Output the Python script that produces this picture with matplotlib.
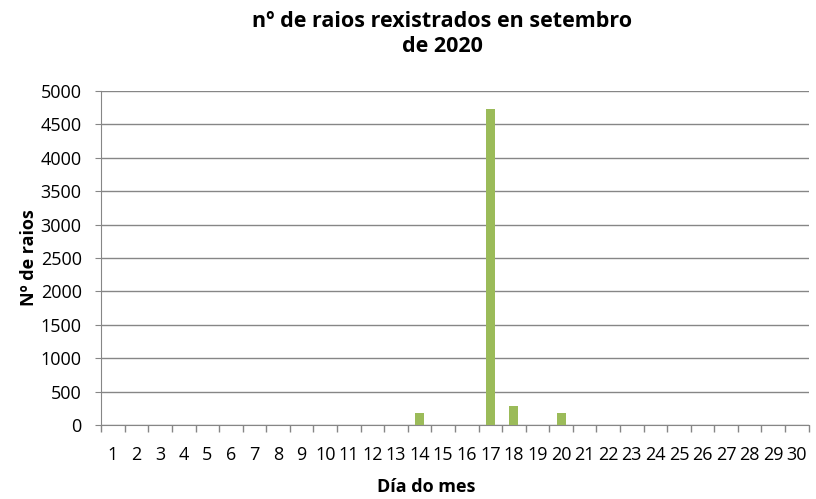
import matplotlib.pyplot as plt
import numpy as np

dias = list(range(1, 31))
raios = [0] * 30
raios[13] = 180   # día 14
raios[16] = 4730  # día 17
raios[17] = 280   # día 18
raios[19] = 180   # día 20

plt.rcParams['font.family'] = ['Open Sans', 'DejaVu Sans']

fig = plt.figure(figsize=(8.16, 4.99), dpi=100)
ax = fig.add_axes([0.124, 0.148, 0.867, 0.670])

x = np.arange(len(dias))
ax.bar(x, raios, width=0.38, color='#9BBB59', zorder=3)

ax.set_xlim(-0.5, len(dias) - 0.5)
ax.set_ylim(0, 5000)
ax.set_yticks(range(0, 5001, 500))
ax.set_xticks(x)
ax.set_xticklabels([str(d) for d in dias], fontsize=13)
ax.set_xticks(np.arange(-0.5, len(dias), 1), minor=True)
ax.tick_params(axis='x', which='major', length=0, pad=15)
ax.tick_params(axis='x', which='minor', length=5, color='#868686', width=1)
ax.tick_params(axis='y', length=4, color='#868686', labelsize=13, pad=10)

ax.grid(axis='y', color='#868686', linewidth=1, zorder=0)
for s in ['top', 'right']:
    ax.spines[s].set_visible(False)
ax.spines['left'].set_color('#868686')
ax.spines['bottom'].set_color('#868686')

fig.text(442 / 816, 1 - 34 / 499, 'nº de raios rexistrados en setembro\nde 2020',
         fontsize=15.5, fontweight='bold', ha='center', va='center',
         linespacing=1.2)
fig.text(426 / 816, 1 - 487 / 499, 'Día do mes', fontsize=13,
         fontweight='bold', ha='center', va='center')
ax.set_ylabel('Nº de raios', fontsize=13, fontweight='bold', labelpad=2)

fig.savefig('out.png', dpi=100)
